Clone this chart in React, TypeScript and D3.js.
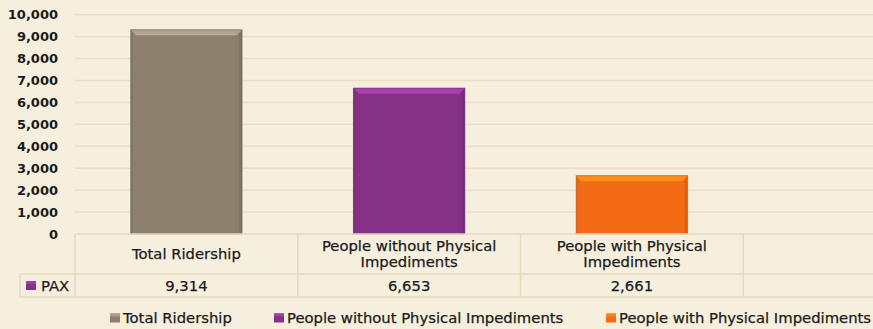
import React from "react";
import * as d3 from "d3";

const categories = ["Total Ridership", "People without Physical Impediments", "People with Physical Impediments", ""];
const categoryLines = [["Total Ridership"], ["People without Physical", "Impediments"], ["People with Physical", "Impediments"], []];
const values = [9314, 6653, 2661];
const valueLabels = ["9,314", "6,653", "2,661"];
const barColors = ["#8C7F6D", "#843186", "#F36C15"];
const yTicks = [0, 1000, 2000, 3000, 4000, 5000, 6000, 7000, 8000, 9000, 10000];
const seriesName = "PAX";

const W = 873;
const H = 329;
const BG = "#F6EFDD";
const GRID = "#EADFC6";
const BORDER = "#E6D9BD";
const FONT = "DejaVu Sans, Verdana, sans-serif";
const FS = 14.8;
const TXT = "#1a1a1a";

function shade(c: string, k: number) {
  const col = d3.color(c)!;
  return k > 0 ? col.brighter(k).formatHex() : col.darker(-k).formatHex();
}

export default function App() {
  const x = d3.scaleBand<string>().domain(categories).range([75, 966]).paddingInner(0.5).paddingOuter(0.25);
  const y = d3.scaleLinear().domain([0, 10000]).range([234, 14.7]);
  const fmt = d3.format(",");
  const step = x.step();
  const colStart = (i: number) => 75 + i * step;
  const headerTop = y(0);
  const rowTop = 274;
  const rowBottom = 297;
  const legendY = 318;
  const legendItems = [
    { label: categories[0], color: barColors[0], mx: 110 },
    { label: categories[1], color: barColors[1], mx: 274 },
    { label: categories[2], color: barColors[2], mx: 606 },
  ];
  const textStyle = { stroke: TXT, strokeWidth: 0.25, paintOrder: "stroke" } as React.CSSProperties;
  const marker = (mx: number, my: number, color: string, key: string) => (
    <g key={key}>
      <rect x={mx} y={my - 4.5} width={10} height={9} fill={color} />
      <rect x={mx} y={my - 4.5} width={10} height={3} fill={shade(color, 0.6)} />
      <rect x={mx + 1} y={my - 1} width={8} height={4} fill={color} />
    </g>
  );
  return (
    <svg width={W} height={H} style={{ position: "absolute", left: 0, top: 0 }} fontFamily={FONT}>
      <rect x={0} y={0} width={W} height={H} fill={BG} />
      {yTicks.filter((t) => t > 0).map((t) => (
        <line key={t} x1={75} x2={W} y1={y(t)} y2={y(t)} stroke={GRID} strokeWidth={1.5} />
      ))}
      {yTicks.map((t) => (
        <text key={"l" + t} x={58} y={y(t)} dy="0.36em" textAnchor="end" fontSize={13} fontWeight="bold" fill={TXT}>
          {fmt(t)}
        </text>
      ))}
      {values.map((v, i) => {
        const bx = x(categories[i])!;
        const bw = x.bandwidth();
        const by = y(v);
        const bh = y(0) - by;
        const c = barColors[i];
        const e = 5;
        return (
          <g key={i}>
            <rect x={bx} y={by} width={bw} height={bh} fill={c} />
            <polygon points={`${bx},${by} ${bx + bw},${by} ${bx + bw - e},${by + e} ${bx + e},${by + e}`} fill={shade(c, 0.7)} />
            <line x1={bx + e} x2={bx + bw - e} y1={by + e} y2={by + e} stroke={shade(c, 1.2)} strokeWidth={1} opacity={0.7} />
            <polygon points={`${bx + bw},${by} ${bx + bw},${by + bh} ${bx + bw - 3},${by + bh} ${bx + bw - 3},${by + e}`} fill={shade(c, -0.5)} opacity={0.6} />
            <polygon points={`${bx},${by} ${bx},${by + bh} ${bx + 2},${by + bh} ${bx + 2},${by + e}`} fill={shade(c, -0.4)} opacity={0.5} />
            <rect x={bx} y={by} width={bw} height={bh} fill="none" stroke={shade(c, -0.6)} strokeWidth={1} opacity={0.6} />
          </g>
        );
      })}
      {/* data table */}
      <line x1={75} x2={W} y1={headerTop} y2={headerTop} stroke={BORDER} strokeWidth={1.5} />
      <line x1={20} x2={W} y1={rowTop} y2={rowTop} stroke={BORDER} strokeWidth={1.5} />
      <line x1={20} x2={W} y1={rowBottom} y2={rowBottom} stroke={BORDER} strokeWidth={1.5} />
      <line x1={20} x2={20} y1={rowTop} y2={rowBottom} stroke={BORDER} strokeWidth={1.5} />
      {categories.map((c, i) => (
        <line key={"v" + i} x1={colStart(i)} x2={colStart(i)} y1={headerTop} y2={rowBottom} stroke={BORDER} strokeWidth={1.5} />
      ))}
      {categoryLines.map((lines, i) => {
        const cx = x(categories[i])! + x.bandwidth() / 2;
        const n = lines.length;
        const mid = (headerTop + rowTop) / 2;
        return lines.map((ln, j) => (
          <text key={"c" + i + j} x={cx} y={mid + (j - (n - 1) / 2) * 16} dy="0.36em" textAnchor="middle" fontSize={FS} fill={TXT} style={textStyle}>
            {ln}
          </text>
        ));
      })}
      {valueLabels.map((v, i) => (
        <text key={"val" + i} x={x(categories[i])! + x.bandwidth() / 2} y={(rowTop + rowBottom) / 2} dy="0.36em" textAnchor="middle" fontSize={FS} fill={TXT} style={textStyle}>
          {v}
        </text>
      ))}
      {marker(26, (rowTop + rowBottom) / 2, barColors[1], "pm")}
      <text x={41} y={(rowTop + rowBottom) / 2} dy="0.36em" fontSize={FS} fill={TXT} style={textStyle}>
        {seriesName}
      </text>
      {/* legend */}
      {legendItems.map((it, i) => (
        <g key={"lg" + i}>
          {marker(it.mx, legendY, it.color, "lm" + i)}
          <text x={it.mx + 13} y={legendY} dy="0.36em" fontSize={FS} fill={TXT} style={textStyle}>
            {it.label}
          </text>
        </g>
      ))}
    </svg>
  );
}
